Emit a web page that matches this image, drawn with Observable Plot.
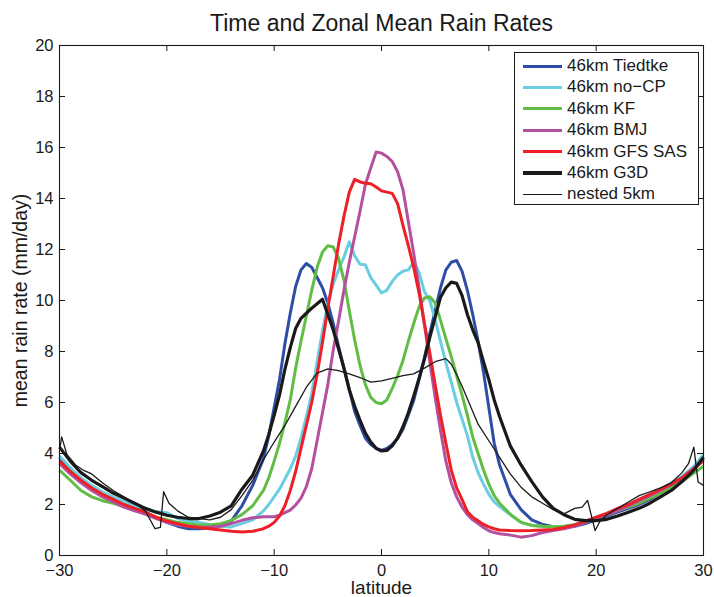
<!DOCTYPE html>
<html>
<head>
<meta charset="utf-8">
<script src="https://cdn.jsdelivr.net/npm/d3@7"></script>
<script src="https://cdn.jsdelivr.net/npm/@observablehq/plot@0.6"></script>
<style>
  html, body { margin: 0; padding: 0; background: #fff; }
  #wrap { position: relative; width: 714px; height: 597px; font-family: "Liberation Sans", Arial, Helvetica, sans-serif; }
  #legend { position: absolute; left: 514px; top: 52px; width: 183px; height: 151px; border: 1px solid #1a1a1a; background: #fff; box-sizing: content-box; }
  .row { position: absolute; left: 0; height: 20px; }
  .swatch { position: absolute; left: 8px; width: 39px; }
  .lbl { position: absolute; left: 52px; top: 0; font-size: 17px; color: #1a1a1a; white-space: nowrap; line-height: 20px; }
</style>
</head>
<body>
<div id="wrap"><div id="legend"></div></div>
<script>
// ---- data ----
const lat = [-30,-29,-28,-27,-26,-25,-24,-23,-22,-21,-20,-19,-18,-17,-16,-15,-14,-13,-12,-11,
  -10.5,-10,-9.5,-9,-8.5,-8,-7.5,-7,-6.5,-6,-5.5,-5,-4.5,-4,-3.5,-3,-2.5,-2,-1.5,-1,-0.5,0,0.5,1,1.5,2,2.5,3,3.5,4,4.5,5,5.5,6,6.5,7,7.5,8,8.5,9,9.5,10,10.5,
  11,12,13,14,15,16,17,18,19,20,21,22,23,24,25,26,27,28,29,30];

const tiedtke = [3.85,3.35,2.95,2.65,2.4,2.2,2.0,1.85,1.7,1.5,1.3,1.15,1.05,1.05,1.08,1.15,1.35,1.95,2.75,3.8,
  4.7,5.8,6.9,8.3,9.5,10.55,11.2,11.45,11.3,10.9,10.5,9.9,9.1,8.2,7.35,6.5,5.65,5.1,4.6,4.35,4.2,4.12,4.2,4.35,4.6,4.95,5.5,6.08,6.9,7.75,8.7,9.6,10.5,11.2,11.5,11.57,11.15,10.4,9.45,8.4,7.2,5.8,4.4,
  3.55,2.4,1.8,1.4,1.22,1.13,1.12,1.15,1.25,1.4,1.55,1.7,1.85,2.0,2.2,2.45,2.7,3.0,3.35,3.8];

const noCP = [3.9,3.45,3.05,2.75,2.5,2.3,2.1,1.95,1.8,1.72,1.68,1.45,1.35,1.3,1.22,1.15,1.12,1.25,1.4,1.75,
  2.0,2.3,2.6,3.0,3.4,3.9,4.6,5.45,6.35,7.6,8.8,9.85,10.65,11.2,11.7,12.3,11.75,11.42,11.4,10.9,10.6,10.3,10.4,10.75,11.0,11.15,11.2,11.5,11.1,10.35,10.0,9.25,8.4,7.55,6.8,6.0,5.35,4.7,3.85,3.25,2.8,2.4,2.1,
  1.92,1.6,1.3,1.18,1.15,1.13,1.15,1.22,1.35,1.5,1.65,1.82,2.0,2.2,2.4,2.6,2.85,3.1,3.45,3.95];

const kf = [3.35,2.95,2.55,2.3,2.15,2.05,1.92,1.78,1.62,1.5,1.4,1.3,1.25,1.2,1.2,1.25,1.38,1.6,1.95,2.55,
  3.05,3.7,4.4,5.2,6.1,7.35,8.4,9.4,10.4,11.3,11.9,12.15,12.1,11.65,10.8,9.6,8.45,7.45,6.7,6.2,6.0,5.95,6.1,6.55,7.05,7.65,8.4,9.1,9.75,10.1,10.15,9.9,9.22,8.5,7.8,7.05,6.3,5.5,4.65,4.0,3.35,2.8,2.35,
  2.05,1.62,1.3,1.18,1.15,1.13,1.15,1.2,1.3,1.45,1.6,1.75,1.9,2.05,2.25,2.45,2.65,2.9,3.2,3.5];

const bmj = [3.6,3.2,2.85,2.55,2.3,2.1,1.9,1.75,1.62,1.45,1.3,1.2,1.15,1.1,1.12,1.15,1.25,1.38,1.48,1.52,
  1.52,1.52,1.58,1.68,1.78,1.98,2.25,2.7,3.4,4.5,5.6,6.7,8.05,9.2,10.4,11.5,12.5,13.5,14.55,15.2,15.82,15.78,15.65,15.45,15.05,14.35,13.1,11.85,10.5,9.05,7.6,6.2,4.9,3.7,2.85,2.3,1.9,1.6,1.4,1.25,1.1,0.97,0.9,
  0.85,0.8,0.72,0.78,0.9,0.98,1.05,1.15,1.3,1.45,1.6,1.75,1.95,2.15,2.35,2.55,2.8,3.05,3.4,3.7];

const gfsSAS = [3.7,3.3,2.95,2.65,2.4,2.2,2.0,1.85,1.7,1.5,1.35,1.25,1.15,1.1,1.05,1.0,0.95,0.92,0.95,1.05,
  1.15,1.3,1.55,1.95,2.55,3.3,4.2,5.1,6.0,7.1,8.35,9.7,10.95,12.2,13.3,14.25,14.75,14.65,14.6,14.58,14.45,14.3,14.25,14.2,13.8,12.95,12.15,11.3,10.3,9.1,7.95,6.7,5.5,4.4,3.35,2.65,2.2,1.72,1.5,1.36,1.22,1.12,1.05,
  1.0,0.98,0.97,0.98,1.0,1.02,1.1,1.2,1.35,1.5,1.65,1.85,2.0,2.2,2.4,2.6,2.8,3.05,3.35,3.75];

const g3d = [4.25,3.7,3.25,2.95,2.7,2.45,2.25,2.05,1.85,1.7,1.58,1.5,1.45,1.45,1.55,1.7,1.95,2.6,3.15,4.1,
  4.75,5.5,6.3,7.3,8.15,8.9,9.3,9.5,9.7,9.87,10.05,9.45,8.85,8.1,7.35,6.5,5.85,5.3,4.8,4.45,4.2,4.1,4.12,4.3,4.6,5.05,5.6,6.25,6.95,7.7,8.55,9.35,10.13,10.5,10.72,10.67,10.2,9.45,8.85,8.35,7.6,6.9,6.1,
  5.45,4.3,3.55,2.9,2.3,1.85,1.6,1.42,1.37,1.37,1.42,1.55,1.7,1.85,2.05,2.3,2.55,2.9,3.3,3.85];

const latNested = [-30,-29.8,-29.3,-28.5,-27.8,-27,-26,-25,-24,-23,-22,-21.1,-20.6,-20.3,-19.8,-19,-18,-17,-16,-15,-14,-13,-12,-11,-10,-9,-8,-7,-6,-5,-4,-3,-2,-1,0,1,2,3,4,5,6,6.5,7,7.5,8,9,10,11,12,13,14,15,16,17,18,18.7,19.2,19.9,20.4,21,22,23,24,25,26,27,28,28.6,29.1,29.5,30];
const nested5km = [4.1,4.65,3.95,3.55,3.35,3.2,2.85,2.55,2.3,2.05,1.75,1.05,1.1,2.5,2.05,1.75,1.5,1.45,1.4,1.5,1.8,2.35,2.95,3.75,4.45,5.1,5.85,6.6,7.15,7.32,7.25,7.12,6.98,6.8,6.85,6.95,7.05,7.12,7.35,7.6,7.72,7.5,7.1,6.65,6.15,5.15,4.5,3.85,3.2,2.68,2.3,2.05,1.8,1.63,1.85,1.9,2.16,0.98,1.37,1.6,1.85,2.1,2.35,2.5,2.65,2.85,3.25,3.6,4.25,2.88,2.75];

const seriesNames = ["46km Tiedtke","46km no\u2212CP","46km KF","46km BMJ","46km GFS SAS","46km G3D","nested 5km"];
const seriesColors = ["#2e4ea6","#6bcee0","#62bd45","#b4519f","#ee2027","#1a1a1a","#1a1a1a"];
const seriesWidths = [3,3,3,3,3,3.2,1.3];
const xTicks = [-30,-20,-10,0,10,20,30];
const yTicks = [0,2,4,6,8,10,12,14,16,18,20];
const titleText = "Time and Zonal Mean Rain Rates";
const xLabel = "latitude";
const yLabel = "mean rain rate (mm/day)";

// ---- build ----
const seriesValues = [tiedtke, noCP, kf, bmj, gfsSAS, g3d, nested5km];
const seriesLats = [lat, lat, lat, lat, lat, lat, latNested];
const tables = seriesValues.map((vals, i) => seriesLats[i].map((la, j) => ({lat: la, value: vals[j]})));

const W = 714, H = 597, mL = 59, mR = 11, mT = 45, mB = 42;
const pw = W - mL - mR, ph = H - mT - mB, tick = 6;

const lineMarks = tables.map((t, i) => Plot.line(t, {x: "lat", y: "value", stroke: seriesColors[i], strokeWidth: seriesWidths[i], strokeLinejoin: "round", strokeLinecap: "butt"}));

const chart = Plot.plot({
  width: W, height: H,
  marginLeft: mL, marginRight: mR, marginTop: mT, marginBottom: mB,
  style: {fontFamily: '"Liberation Sans", Arial, Helvetica, sans-serif', fontSize: "16px", color: "#1a1a1a", background: "#fff"},
  x: {domain: [-30, 30]},
  y: {domain: [0, 20]},
  marks: [
    ...lineMarks,
    Plot.frame({stroke: "#1a1a1a", strokeWidth: 1.1}),
    Plot.ruleY(yTicks, {y: d => d, insetRight: pw - tick, stroke: "#1a1a1a"}),
    Plot.ruleY(yTicks, {y: d => d, insetLeft: pw - tick, stroke: "#1a1a1a"}),
    Plot.ruleX(xTicks, {x: d => d, insetTop: ph - tick, stroke: "#1a1a1a"}),
    Plot.ruleX(xTicks, {x: d => d, insetBottom: ph - tick, stroke: "#1a1a1a"}),
    Plot.axisX({ticks: xTicks, tickSize: 0, tickPadding: 9, label: null, fontSize: 16.5, tickFormat: d => String(d).replace("-", "\u2212")}),
    Plot.axisY({ticks: yTicks, tickSize: 0, tickPadding: 6, label: null, fontSize: 16.5}),
    Plot.text([titleText], {frameAnchor: "top", dy: -22, textAnchor: "middle", lineAnchor: "middle", fontSize: 23, fill: "#1a1a1a"}),
    Plot.text([xLabel], {frameAnchor: "bottom", dy: 32, textAnchor: "middle", lineAnchor: "middle", fontSize: 19, fill: "#1a1a1a"}),
    Plot.text([yLabel], {frameAnchor: "left", dx: -39, rotate: -90, textAnchor: "middle", lineAnchor: "middle", fontSize: 19.5, fill: "#1a1a1a"})
  ]
});

const wrap = document.getElementById("wrap");
wrap.insertBefore(chart, wrap.firstChild);

// ---- legend ----
const legend = document.getElementById("legend");
seriesNames.forEach((name, i) => {
  const row = document.createElement("div");
  row.className = "row";
  row.style.top = (3 + i * 21.4) + "px";
  const sw = document.createElement("div");
  sw.className = "swatch";
  sw.style.height = seriesWidths[i] + "px";
  sw.style.background = seriesColors[i];
  sw.style.top = (10 - seriesWidths[i] / 2) + "px";
  const lb = document.createElement("div");
  lb.className = "lbl";
  lb.textContent = name;
  row.appendChild(sw);
  row.appendChild(lb);
  legend.appendChild(row);
});
</script>
</body>
</html>
